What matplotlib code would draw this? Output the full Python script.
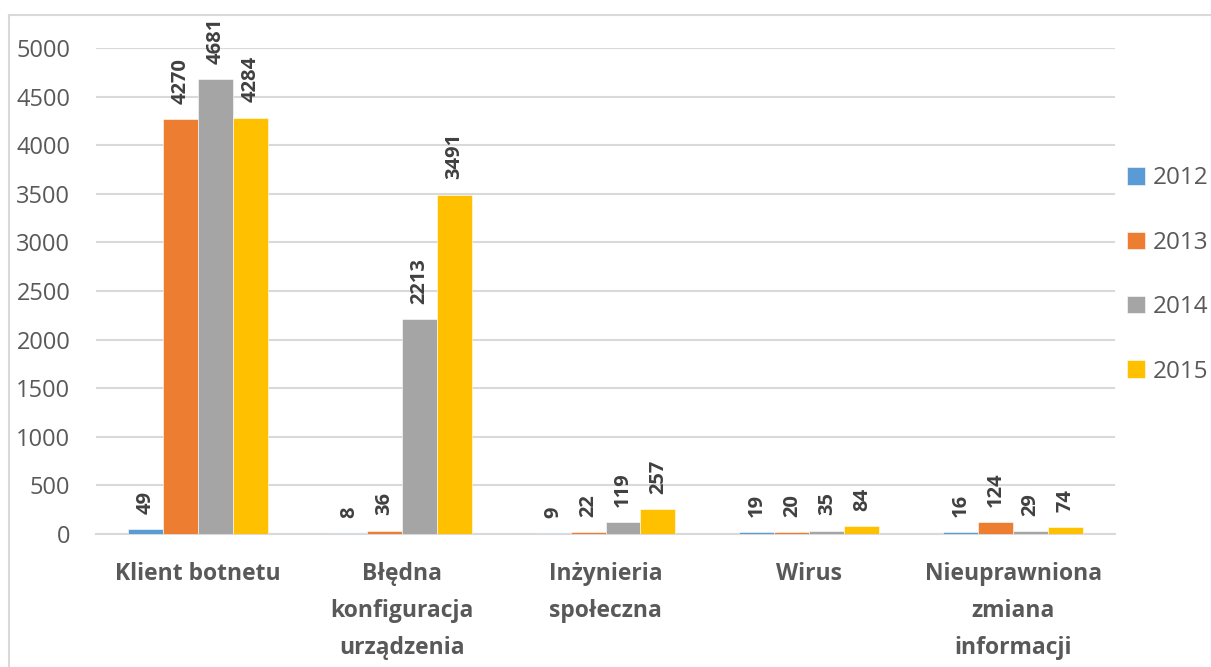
import matplotlib.pyplot as plt
import numpy as np
from matplotlib.lines import Line2D

plt.rcParams['font.family'] = ['Open Sans', 'DejaVu Sans']

categories = ["Klient botnetu", "Błędna\nkonfiguracja\nurządzenia", "Inżynieria\nspołeczna",
              "Wirus", "Nieuprawniona\nzmiana\ninformacji"]
years = ["2012", "2013", "2014", "2015"]
v2012 = [49, 8, 9, 19, 16]
v2013 = [4270, 36, 22, 20, 124]
v2014 = [4681, 2213, 119, 35, 29]
v2015 = [4284, 3491, 257, 84, 74]
series = [v2012, v2013, v2014, v2015]
colors = ['#5B9BD5', '#ED7D31', '#A5A5A5', '#FFC000']

W, H = 1211, 667
fig = plt.figure(figsize=(W/100., H/100.), dpi=100)
ax = fig.add_axes([96./W, 1-534./H, (1115.-96)/W, (534.-48)/H])

x = np.arange(len(categories))
bw = 0.1716
for i, (vals, c) in enumerate(zip(series, colors)):
    pos = x + (i - 1.5)*bw
    ax.bar(pos, vals, width=bw, color=c, edgecolor='white', linewidth=0.4,
           label=years[i], zorder=3)
    for p, v in zip(pos, vals):
        ax.annotate(str(v), xy=(p, v), xytext=(0, 11), textcoords='offset points',
                    rotation=90, ha='center', va='bottom', fontsize=14.5,
                    fontweight='bold', color='#404040', annotation_clip=False)

ax.set_xlim(-0.5, len(categories)-0.5)
ax.set_ylim(0, 5000)
ax.set_yticks(np.arange(0, 5001, 500))
ax.grid(axis='y', color='#D9D9D9', linewidth=1.5, zorder=0)
ax.set_axisbelow(True)
for s in ['top', 'right', 'left']:
    ax.spines[s].set_visible(False)
ax.spines['bottom'].set_color('#D9D9D9')
ax.spines['bottom'].set_linewidth(1.5)
ax.tick_params(length=0)
ax.tick_params(axis='y', labelsize=17, labelcolor='#595959', pad=18.5)
ax.set_xticks(x)
ax.set_xticklabels(categories, fontsize=16.5, fontweight='bold', color='#595959',
                   linespacing=1.74)
ax.tick_params(axis='x', pad=20)

leg = fig.legend(loc='center left', bbox_to_anchor=(1127./W, 1-275./H), frameon=False,
                 fontsize=17.5, labelspacing=1.66, handlelength=0.72, handleheight=0.72,
                 handletextpad=0.35, borderaxespad=0, borderpad=0)
for t in leg.get_texts():
    t.set_color('#595959')

# light chart border (top and left)
fig.add_artist(Line2D([8.5/W, 8.5/W], [0, 1-14.5/H], color='#D9D9D9', linewidth=1.5))
fig.add_artist(Line2D([8.5/W, 1], [1-14.5/H, 1-14.5/H], color='#D9D9D9', linewidth=1.5))

fig.savefig("out.png", dpi=100)
